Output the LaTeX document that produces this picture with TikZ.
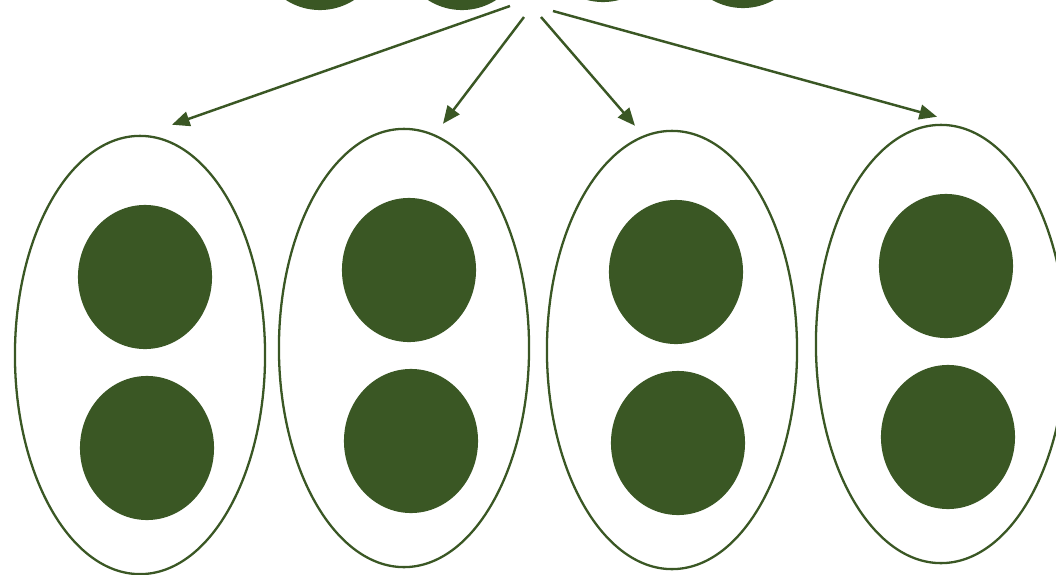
\documentclass[tikz,border=0pt]{standalone}
\usetikzlibrary{arrows.meta,shapes.geometric}
\definecolor{leaf}{HTML}{3A5724}

\begin{document}
\begin{tikzpicture}[x=0.01cm, y=-0.01cm,
  group/.style={ellipse, draw=leaf, line width=0.65pt, fill=white, minimum width=2.5cm, minimum height=4.38cm, inner sep=0pt},
  item/.style={ellipse, fill=leaf, minimum width=1.34cm, minimum height=1.44cm, inner sep=0pt},
  link/.style={-{Triangle[length=5pt, width=4.2pt]}, line width=0.7pt, draw=leaf}]
\clip (0,0) rectangle (1056,575);

% ---- parent row, cut by the top edge
\node[item] (top1) at (320,-62) {};
\node[item] (top2) at (462,-62) {};
\node[item] (top3) at (603,-70) {};
\node[item] (top4) at (743,-64) {};

% ---- four groups with two items each
\node[group] (g1) at (140,355) {};
\node[group] (g2) at (404,348) {};
\node[group] (g3) at (672,350) {};
\node[group] (g4) at (941,344) {};
\node[item] (g1a) at (145,277) {};
\node[item] (g1b) at (147,448) {};
\node[item] (g2a) at (409,270) {};
\node[item] (g2b) at (411,441) {};
\node[item] (g3a) at (676,272) {};
\node[item] (g3b) at (678,443) {};
\node[item] (g4a) at (946,266) {};
\node[item] (g4b) at (948,437) {};

% ---- split arrows
\coordinate (s1) at (510,6);
\coordinate (s2) at (524,17);
\coordinate (s3) at (541,17);
\coordinate (s4) at (553,11);
\coordinate (t1) at ([shift={(32,-10)}]g1.north);
\coordinate (t2) at ([shift={(39,-4)}]g2.north);
\coordinate (t3) at ([shift={(-37,-4)}]g3.north);
\coordinate (t4) at ([shift={(-4,-7)}]g4.north);
\draw[link] (s1) -- (t1);
\draw[link] (s2) -- (t2);
\draw[link] (s3) -- (t3);
\draw[link] (s4) -- (t4);
\end{tikzpicture}
\end{document}
